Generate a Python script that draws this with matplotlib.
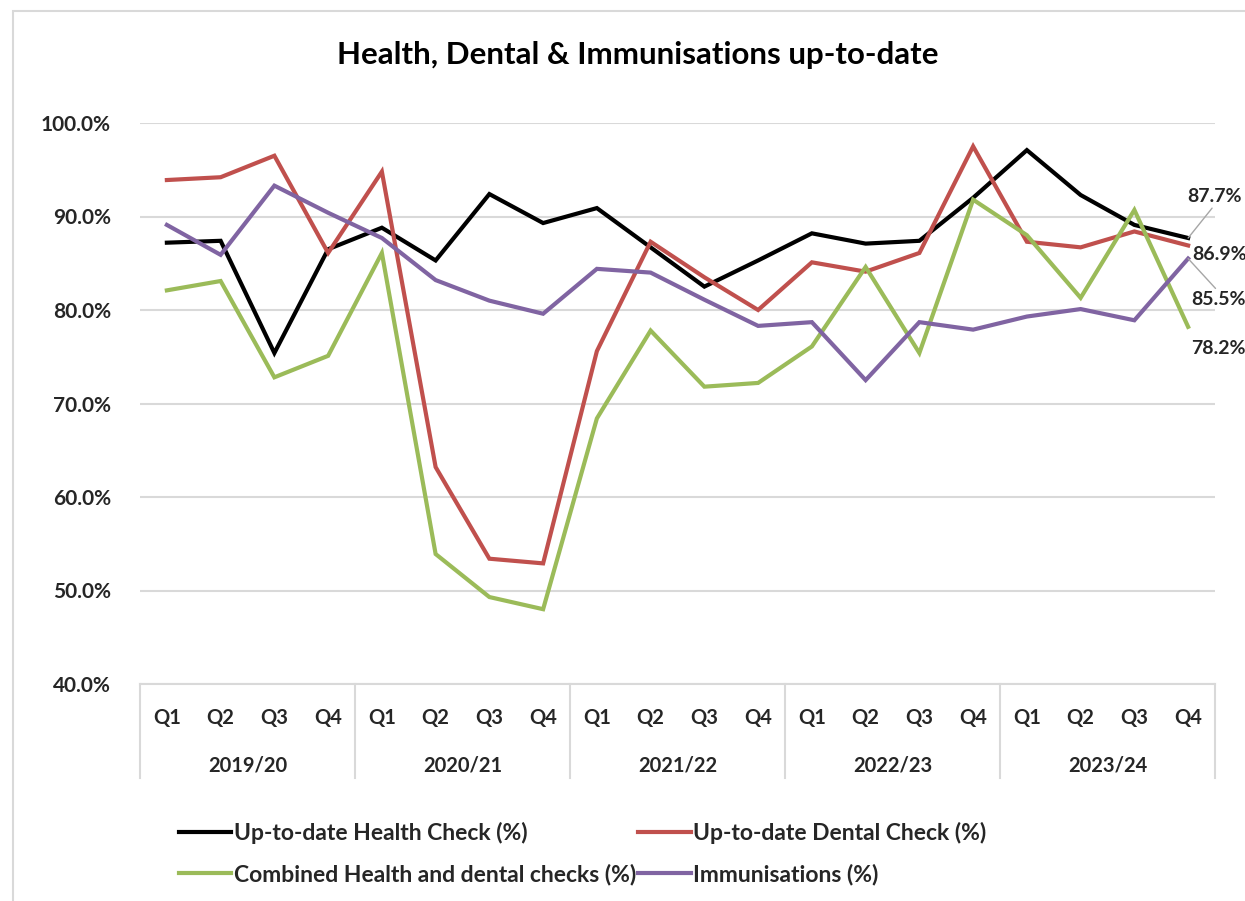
import matplotlib.pyplot as plt
from matplotlib.lines import Line2D
from matplotlib.patches import Rectangle

plt.rcParams['font.family'] = ['Lato', 'DejaVu Sans']
plt.rcParams['font.weight'] = 'bold'

years = ["2019/20", "2020/21", "2021/22", "2022/23", "2023/24"]
quarters = ["Q1", "Q2", "Q3", "Q4"]

health = [87.2, 87.4, 75.4, 86.5, 88.8, 85.3, 92.4, 89.3, 90.9, 86.7,
          82.5, 85.3, 88.2, 87.1, 87.4, 92.0, 97.1, 92.3, 89.1, 87.7]
dental = [93.9, 94.2, 96.5, 86.1, 94.8, 63.2, 53.4, 52.9, 75.6, 87.3,
          83.5, 80.0, 85.1, 84.1, 86.1, 97.5, 87.3, 86.7, 88.4, 86.9]
combined = [82.1, 83.1, 72.8, 75.1, 86.1, 53.9, 49.3, 48.0, 68.4, 77.8,
            71.8, 72.2, 76.1, 84.6, 75.4, 91.8, 88.0, 81.3, 90.7, 78.2]
immunisations = [89.1, 85.9, 93.3, 90.4, 87.7, 83.2, 81.0, 79.6, 84.4, 84.0,
                 81.1, 78.3, 78.7, 72.5, 78.7, 77.9, 79.3, 80.1, 78.9, 85.5]

series = [
    ("Up-to-date Health Check (%)", health, "black"),
    ("Up-to-date Dental Check (%)", dental, "#c0504d"),
    ("Combined Health and dental checks (%)", combined, "#9bbb59"),
    ("Immunisations (%)", immunisations, "#8064a2"),
]

W, H = 1245, 901
FS = 14.5
TXT = "#262626"
fig = plt.figure(figsize=(W / 100, H / 100), dpi=100)
ax = fig.add_axes([140 / W, 1 - 684 / H, 1075 / W, 561 / H])

x = list(range(len(years) * len(quarters)))
handles = {}
for name, vals, color in series:
    line, = ax.plot(x, vals, color=color, linewidth=3.0, solid_joinstyle="miter")
    handles[name] = line

ax.set_xlim(-0.5, len(x) - 0.5)
ax.set_ylim(40, 100)
ax.set_yticks(range(40, 101, 10))
ax.set_yticklabels([f"{v:.1f}%" for v in range(40, 101, 10)], fontsize=15, color=TXT,
                   fontweight="bold")
ax.yaxis.grid(True, color="#d9d9d9", linewidth=1.5)
ax.set_axisbelow(True)
ax.tick_params(axis="y", length=0, pad=21)
for s in ax.spines.values():
    s.set_visible(False)

# multi-level category axis
ax.set_xticks(x)
ax.set_xticklabels(quarters * len(years), fontsize=FS, color=TXT, fontweight="bold")
ax.tick_params(axis="x", length=0, pad=17)
trans = ax.get_xaxis_transform()
sep_depth = 94 / 561
ax.add_line(Line2D([-0.5, len(x) - 0.5], [0, 0], transform=trans, color="#d9d9d9",
                   linewidth=1.5, clip_on=False))
for i in range(len(years) + 1):
    xs = i * 4 - 0.5
    ax.add_line(Line2D([xs, xs], [0, -sep_depth], transform=trans, color="#d9d9d9",
                       linewidth=1.5, clip_on=False))
for i, yr in enumerate(years):
    ax.text(i * 4 + 1.5, -(765 - 684) / 561, yr, transform=trans, ha="center", va="center",
            fontsize=FS, color=TXT, fontweight="bold")

# end-point data labels
last = len(x) - 1
label_style = dict(fontsize=14, color=TXT, fontweight="bold", va="center", ha="left",
                   annotation_clip=False)
ax.annotate(f"{health[-1]:.1f}%", xy=(last, health[-1]), xytext=(last - 0.02, 92.1),
            arrowprops=dict(arrowstyle="-", color="#a6a6a6", linewidth=1, shrinkA=0, shrinkB=0,
                            relpos=(0.5, 0.0)), **label_style)
ax.annotate(f"{dental[-1]:.1f}%", xy=(last, dental[-1]), xytext=(last + 0.08, 85.9),
            **label_style)
ax.annotate(f"{immunisations[-1]:.1f}%", xy=(last, immunisations[-1]), xytext=(last + 0.05, 81.1),
            arrowprops=dict(arrowstyle="-", color="#a6a6a6", linewidth=1, shrinkA=0, shrinkB=0,
                            relpos=(0.5, 1.0)), **label_style)
ax.annotate(f"{combined[-1]:.1f}%", xy=(last, combined[-1]), xytext=(last + 0.05, 75.9),
            **label_style)

fig.text(638 / W, 1 - 55 / H, "Health, Dental & Immunisations up-to-date", ha="center", va="center",
         fontsize=22.5, color="black", fontweight="bold")

order = [series[0][0], series[2][0], series[1][0], series[3][0]]
fig.legend([handles[n] for n in order], order, loc="upper left",
           bbox_to_anchor=(158 / W, 1 - 801 / H), ncol=2, frameon=False,
           prop=dict(size=16.5, weight="bold"),
           handlelength=2.3, handletextpad=0.1, columnspacing=0.1, labelspacing=0.85,
           labelcolor=TXT)

fig.add_artist(Rectangle((13 / W, -0.1), 1.2, 1 - 11 / H + 0.1, transform=fig.transFigure,
                         fill=False, edgecolor="#d9d9d9", linewidth=1.5))

fig.savefig("out.png", dpi=100)
